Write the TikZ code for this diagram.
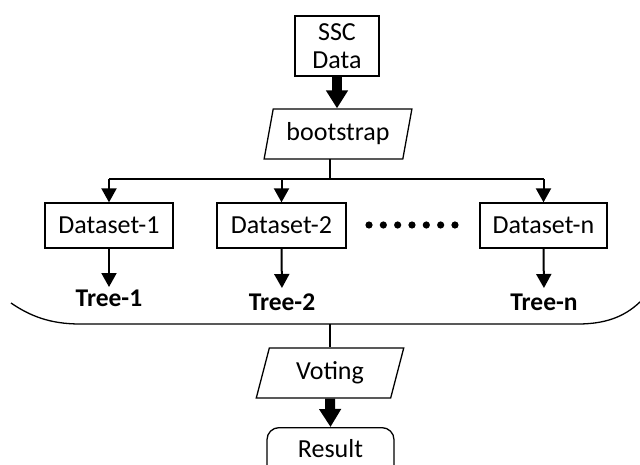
\documentclass[tikz,border=0pt]{standalone}
\usepackage{fontspec}
\setmainfont{Carlito}
\usetikzlibrary{shapes.geometric,arrows.meta}
\begin{document}
\begin{tikzpicture}[x=1pt,y=-1pt,
  every node/.style={font=\fontsize{26}{30}\selectfont, text=black, align=center},
  box/.style={draw, line width=1.3pt, inner sep=0pt},
  para/.style={draw, line width=1.3pt, trapezium, trapezium left angle=72, trapezium right angle=108,
    trapezium stretches=true, minimum width=148pt, minimum height=50pt, inner sep=0pt},
  tree/.style={font=\fontsize{25.5}{30}\selectfont\bfseries, inner sep=0pt, anchor=north},
  conn/.style={line width=2pt, -{Triangle[length=14pt,width=15pt]}},
  bigarrow/.style={line width=10pt, -{Triangle[length=18pt,width=21pt]}},
  plain/.style={line width=1.5pt}
]
\useasboundingbox (0,0) rectangle (640,465);

\node[box, minimum width=84pt, minimum height=60pt] (ssc) at (337,46) {SSC\\[-2pt]Data};
\node[para] (boot) at (338,134) {bootstrap};

\node[box, minimum width=128pt, minimum height=45pt] (d1) at (109,225.5) {Dataset-1};
\node[box, minimum width=129pt, minimum height=45pt] (d2) at (281.5,225.5) {Dataset-2};
\node[box, minimum width=127pt, minimum height=45pt] (dn) at (543.5,225.5) {Dataset-n};

\foreach \i in {0,...,6} \fill (369+\i*14.33,225) circle (3.6pt);

\node[tree] (t1) at (109,290) {Tree-1};
\node[tree] (t2) at (282,294) {Tree-2};
\node[tree] (tn) at (544,294) {Tree-n};

\node[para] (vote) at (330,373) {Voting};
\node[box, rounded corners=12pt, minimum width=127pt, text height=30pt, text depth=25pt, anchor=north]
  (res) at (330.5,427) {Result};

% connectors
\draw[bigarrow] (ssc.south) -- (ssc.south |- boot.north);
\coordinate (bb) at (330,159);
\coordinate (bus) at (330,179);
\draw[plain] (bb) -- (bus);
\draw[plain] (d1.north |- bus) -- (dn.north |- bus);
\draw[conn] (d1.north |- bus) -- (d1.north);
\draw[conn] (d2.north |- bus) -- (d2.north);
\draw[conn] (dn.north |- bus) -- (dn.north);

\draw[conn, shorten >=3pt] (d1.south) -- (t1.north);
\draw[conn, shorten >=6pt] (d2.south) -- (t2.north);
\draw[conn, shorten >=6pt] (dn.south) -- (tn.north);

% collecting curve
\coordinate (cb) at (330,324);
\draw[line width=1.3pt] (11,303) .. controls (30,316) and (50,324) .. (80,324) -- (578,324)
   .. controls (610,324) and (628,314) .. (642,300);
\draw[plain] (cb) -- (cb |- vote.north);

\draw[bigarrow] (vote.south) -- (res.north);
\end{tikzpicture}
\end{document}
